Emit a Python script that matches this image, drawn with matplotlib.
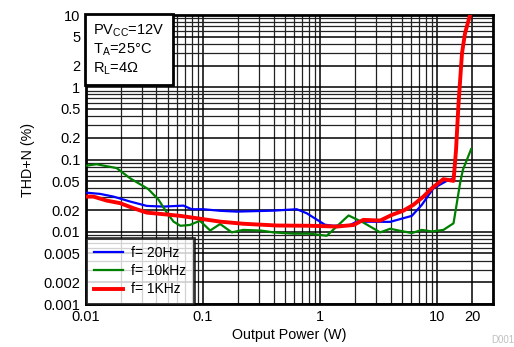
import matplotlib
matplotlib.use("Agg")
import matplotlib.pyplot as plt
from matplotlib.ticker import FixedLocator, LogLocator, NullFormatter

plt.rcParams['font.family'] = ['Liberation Sans', 'DejaVu Sans']

# 20 Hz
p_20 = [0.01, 0.0132, 0.0171, 0.0238, 0.033, 0.0458, 0.068, 0.080, 0.1006, 0.14, 0.194,
        0.40, 0.632, 0.77, 1.10, 1.30, 1.80, 2.06, 3.97, 6.08, 7.4, 9.3, 12.1, 13.8,
        14.5, 15.2, 16.3, 17.3, 19.1]
thd_20 = [0.0348, 0.0334, 0.0307, 0.0262, 0.0228, 0.0223, 0.023, 0.0205, 0.0205, 0.0195, 0.019,
          0.0196, 0.0205, 0.018, 0.0125, 0.0121, 0.0124, 0.0138, 0.0137, 0.0166, 0.0236, 0.040, 0.0506, 0.055,
          0.136, 0.57, 2.95, 5.58, 10]

# 10 kHz
p_10k = [0.01, 0.0123, 0.0183, 0.0238, 0.034, 0.0415, 0.0495, 0.056, 0.064, 0.077, 0.094,
         0.115, 0.14, 0.176, 0.22, 0.31, 0.40, 0.59, 0.82, 1.14, 1.75, 2.34, 3.26, 3.97,
         4.83, 6.08, 7.4, 9.0, 11.3, 13.8, 15.7, 16.6, 19.5]
thd_10k = [0.082, 0.086, 0.076, 0.055, 0.039, 0.028, 0.018, 0.0138, 0.0121, 0.0124, 0.0142,
           0.0104, 0.0128, 0.0098, 0.0106, 0.0104, 0.0098, 0.0094, 0.0094, 0.0088, 0.0168, 0.0134, 0.0098, 0.011,
           0.0103, 0.0096, 0.0106, 0.0101, 0.0106, 0.0131, 0.047, 0.072, 0.139]

# 1 kHz
p_1k = [0.01, 0.01155, 0.0150, 0.0195, 0.0254, 0.033, 0.0458, 0.0636, 0.088, 0.14, 0.221,
        0.427, 0.82, 1.39, 1.93, 2.34, 3.26, 4.10, 5.15, 6.27, 7.64, 9.0, 11.3, 13.8,
        14.5, 15.2, 16.3, 17.3, 19.1]
thd_1k = [0.0307, 0.0307, 0.027, 0.0249, 0.0212, 0.0184, 0.0175, 0.0166, 0.0154, 0.0138, 0.0129,
          0.0122, 0.0121, 0.0118, 0.0124, 0.0146, 0.0143, 0.0171, 0.0196, 0.0236, 0.0307, 0.040, 0.0535, 0.0506,
          0.136, 0.57, 2.95, 5.58, 10]

x_ticks = [0.01, 0.1, 1, 10, 20]
x_labels = ['0.01', '0.1', '1', '10', '20']
y_ticks = [10, 5, 2, 1, 0.5, 0.2, 0.1, 0.05, 0.02, 0.01, 0.005, 0.002, 0.001]
y_labels = ['10', '5', '2', '1', '0.5', '0.2', '0.1', '0.05', '0.02', '0.01', '0.005', '0.002', '0.001']

fig = plt.figure(figsize=(5.14, 3.47), dpi=100)
ax = fig.add_axes([86/514, 43/347, 407/514, 289/347])

ax.plot(p_20, thd_20, color='#0000ff', lw=1.6, label='f= 20Hz', zorder=3)
ax.plot(p_10k, thd_10k, color='#008000', lw=1.6, label='f= 10kHz', zorder=3)
ax.plot(p_1k, thd_1k, color='#ff0000', lw=2.8, label='f= 1KHz', zorder=4)

ax.set_xscale('log')
ax.set_yscale('log')
ax.set_xlim(0.01, 30)
ax.set_ylim(0.001, 10)

ax.xaxis.set_major_locator(FixedLocator(x_ticks))
ax.set_xticklabels(x_labels)
ax.xaxis.set_minor_locator(LogLocator(base=10, subs=range(2, 10)))
ax.xaxis.set_minor_formatter(NullFormatter())
ax.yaxis.set_major_locator(FixedLocator(y_ticks))
ax.set_yticklabels(y_labels)
ax.yaxis.set_minor_locator(LogLocator(base=10, subs=range(2, 10)))
ax.yaxis.set_minor_formatter(NullFormatter())

ax.tick_params(which='both', length=0, labelsize=10.5, pad=4)
ax.grid(which='major', color='black', lw=1.1)
ax.grid(which='minor', color='#222222', lw=0.9)
for s in ax.spines.values():
    s.set_linewidth(2)

ax.set_xlabel('Output Power (W)', fontsize=10.3, labelpad=3)
ax.set_ylabel('THD+N (%)', fontsize=10.3, labelpad=6)

# condition box
ax.text(0.018, 0.975,
        'PV$_{\\mathregular{CC}}$=12V\nT$_{\\mathregular{A}}$=25°C\nR$_{\\mathregular{L}}$=4Ω',
        transform=ax.transAxes, va='top', ha='left', fontsize=10.5, linespacing=1.2,
        bbox=dict(boxstyle='square,pad=0.55', fc='white', ec='black', lw=2), zorder=6)

leg = ax.legend(loc='lower left', fontsize=10, frameon=True, fancybox=False,
                borderaxespad=0, handlelength=2.1, handletextpad=0.6,
                borderpad=0.55, labelspacing=0.3)
leg.get_frame().set_edgecolor('black')
leg.get_frame().set_linewidth(2)
leg.set_zorder(6)

fig.text(0.955, 0.005, 'D001', fontsize=7, color='#c0c0c0', ha='left', va='bottom')

fig.savefig('out.png', dpi=100)
